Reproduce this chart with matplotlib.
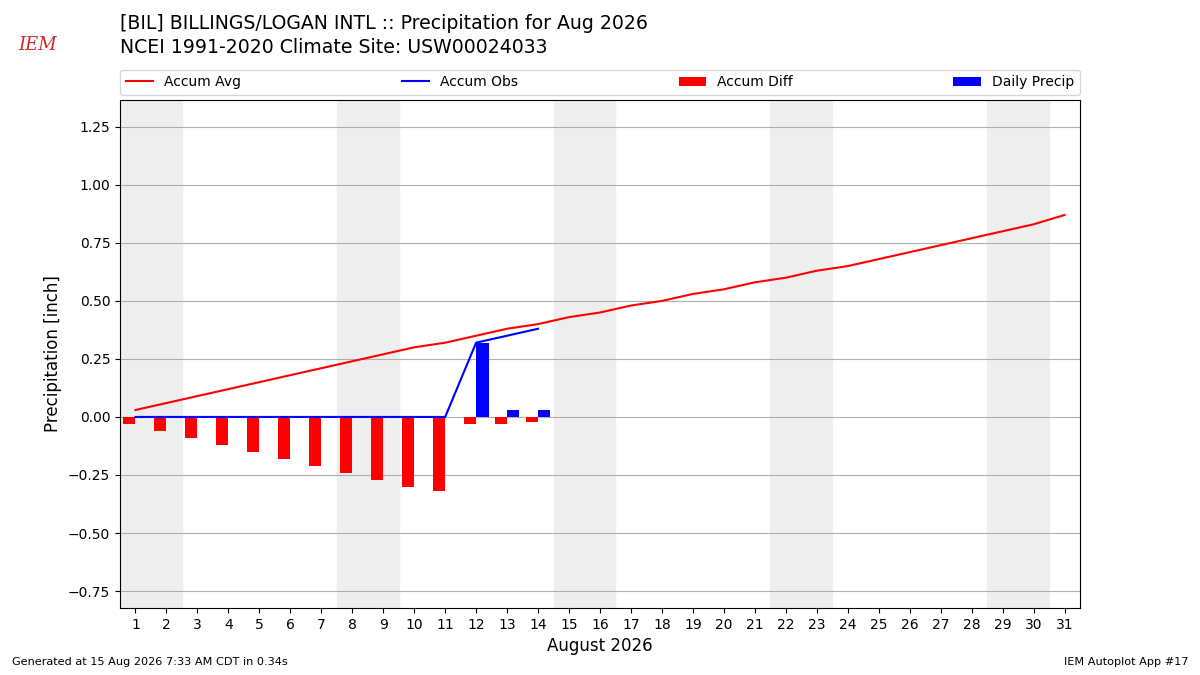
import numpy as np
import matplotlib.pyplot as plt

days = np.arange(1, 32)
accum_avg = [0.03, 0.06, 0.09, 0.12, 0.15, 0.18, 0.21, 0.24, 0.27, 0.30,
             0.32, 0.35, 0.38, 0.40, 0.43, 0.45, 0.48, 0.50, 0.53, 0.55,
             0.58, 0.60, 0.63, 0.65, 0.68, 0.71, 0.74, 0.77, 0.80, 0.83, 0.87]
obs_days = np.arange(1, 15)
daily_precip = [0, 0, 0, 0, 0, 0, 0, 0, 0, 0, 0, 0.32, 0.03, 0.03]
accum_obs = np.cumsum(daily_precip)
accum_diff = accum_obs - np.array(accum_avg[:14])
weekends = [1, 8, 15, 22, 29]

fig = plt.figure(figsize=(12, 6.75), dpi=100)
ax = fig.add_axes([0.1, 0.0993, 0.8, 0.7527])

for w in weekends:
    ax.axvspan(w - 0.5, w + 1.5, color='#eeeeee', zorder=0)

ax.plot(days, accum_avg, color='r', label='Accum Avg', zorder=3)
ax.plot(obs_days, accum_obs, color='b', label='Accum Obs', zorder=3)
ax.bar(obs_days - 0.4, accum_diff, width=0.4, align='edge', color='r',
       label='Accum Diff', zorder=2)
ax.bar(obs_days, daily_precip, width=0.4, align='edge', color='b',
       label='Daily Precip', zorder=2)

ax.set_xlim(0.5, 31.5)
ax.set_ylim(-0.823, 1.366)
ax.set_xticks(days)
ax.set_yticks(np.arange(-0.75, 1.26, 0.25))
ax.grid(axis='y', color='#b0b0b0', zorder=1)
ax.set_axisbelow(True)
ax.set_xlabel('August 2026', fontsize=12)
ax.set_ylabel('Precipitation [inch]', fontsize=12)
ax.tick_params(labelsize=10)

ax.legend(loc='lower left', bbox_to_anchor=(0, 1.01, 1, 0.102), ncol=4,
          mode='expand', borderaxespad=0, fontsize=10)

fig.text(0.1, 0.965, '[BIL] BILLINGS/LOGAN INTL :: Precipitation for Aug 2026',
         fontsize=13.6, va='center')
fig.text(0.1, 0.93, 'NCEI 1991-2020 Climate Site: USW00024033',
         fontsize=13.6, va='center')
fig.text(0.031, 0.933, 'IEM', fontsize=13, color='#d62728', family='serif',
         style='italic', ha='center', va='center')
fig.text(0.01, 0.015, 'Generated at 15 Aug 2026 7:33 AM CDT in 0.34s', fontsize=8.1)
fig.text(0.99, 0.015, 'IEM Autoplot App #17', fontsize=8.1, ha='right')

fig.savefig('out.png')
